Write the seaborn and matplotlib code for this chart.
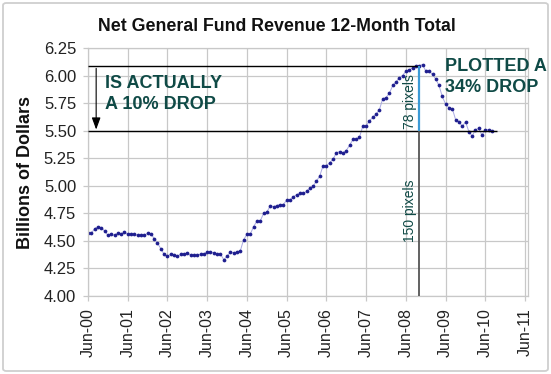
import numpy as np
import pandas as pd
import matplotlib
matplotlib.use("Agg")
import matplotlib.pyplot as plt
import matplotlib.dates as mdates
import matplotlib.transforms as mtransforms
from matplotlib.patches import FancyBboxPatch
import seaborn as sns

# ---------------- data ----------------
start_month = "2000-06-01"
revenue = [
    4.57, 4.57, 4.61, 4.63, 4.62, 4.59, 4.55, 4.56, 4.55, 4.57, 4.56, 4.58,
    4.56, 4.56, 4.56, 4.55, 4.55, 4.55, 4.57, 4.56, 4.52, 4.48, 4.43, 4.38,
    4.36, 4.38, 4.37, 4.36, 4.38, 4.38, 4.39, 4.37, 4.37, 4.37, 4.38, 4.38,
    4.40, 4.40, 4.39, 4.38, 4.38, 4.33, 4.36, 4.40, 4.39, 4.40, 4.41, 4.51,
    4.56, 4.56, 4.63, 4.68, 4.68, 4.75, 4.76, 4.82, 4.81, 4.82, 4.83, 4.83,
    4.87, 4.87, 4.90, 4.92, 4.93, 4.93, 4.95, 4.98, 5.00, 5.04, 5.09, 5.18,
    5.18, 5.21, 5.24, 5.30, 5.31, 5.30, 5.32, 5.37, 5.42, 5.42, 5.44, 5.54,
    5.54, 5.59, 5.62, 5.65, 5.69, 5.79, 5.80, 5.84, 5.91, 5.94, 5.98, 6.00,
    6.04, 6.05, 6.07, 6.09, 6.09, 6.10, 6.04, 6.04, 6.01, 5.97, 5.91, 5.81,
    5.74, 5.71, 5.70, 5.60, 5.58, 5.54, 5.58, 5.49, 5.45, 5.51, 5.52, 5.46,
    5.51, 5.51, 5.50,
]
tick_years = list(range(2000, 2012))
tick_labels = [f"Jun-{y % 100:02d}" for y in tick_years]
y_ticks = [4.00, 4.25, 4.50, 4.75, 5.00, 5.25, 5.50, 5.75, 6.00, 6.25]
y_tick_labels = [f"{v:.2f}" for v in y_ticks]

title = "Net General Fund Revenue 12-Month Total"
y_label = "Billions of Dollars"
left_note = "IS ACTUALLY\nA 10% DROP"
right_note = "PLOTTED A\n34% DROP"
short_label = "78 pixels"
long_label = "150 pixels"

# annotation levels / dates
peak_level = 6.085
actual_level = 5.50
axis_floor = 4.00
mark_date = "2008-09-28"
level_line_end = "2010-09-20"
arrow_date = "2000-08-15"
left_note_pos = ("2000-11-01", 6.005)
right_note_pos = ("2009-05-28", 6.155)

# ---------------- style ----------------
sns.set_theme(style="whitegrid")
plt.rcParams["font.family"] = ["Liberation Sans", "DejaVu Sans"]

W, H = 551, 374
fig = plt.figure(figsize=(W / 100, H / 100), dpi=100)
fig.patch.set_facecolor("white")
ax = fig.add_axes([88 / W, 1 - 296 / H, 440 / W, 248 / H])

dates = pd.date_range(start_month, periods=len(revenue), freq="MS")
df = pd.DataFrame({"date": dates, "revenue": revenue})

sns.lineplot(
    data=df, x="date", y="revenue", ax=ax,
    color="#a9a9e2", linewidth=0.7,
    marker="o", markersize=2.7,
    markerfacecolor="#1f1f8f", markeredgecolor="#1f1f8f", markeredgewidth=0,
)

# axes
grid_c = "#c8c8c8"
ax.set_ylim(4.0, 6.25)
ax.set_yticks(y_ticks)
ax.set_yticklabels(y_tick_labels)
tick_dates = [pd.Timestamp(f"{y}-06-01") for y in tick_years]
ax.set_xlim(mdates.date2num(pd.Timestamp("2000-06-01")),
            mdates.date2num(pd.Timestamp("2011-06-28")))
ax.set_xticks([mdates.date2num(d) for d in tick_dates])
ax.set_xticklabels(tick_labels, rotation=90)
ax.set_xlabel("")
ax.set_ylabel("")
ax.grid(True, color=grid_c, linewidth=0.9)
ax.tick_params(axis="both", bottom=True, left=True, length=3.5, width=0.9,
               color=grid_c, labelcolor="#222222", pad=5)
ax.tick_params(axis="y", labelsize=12)
ax.tick_params(axis="x", labelsize=11.5)
for s in ax.spines.values():
    s.set_visible(True)
    s.set_color(grid_c)
    s.set_linewidth(0.9)

# annotations
x0 = mdates.date2num(dates[0])
mx = mdates.date2num(pd.Timestamp(mark_date))
lx = mdates.date2num(pd.Timestamp(level_line_end))
ax_ = mdates.date2num(pd.Timestamp(arrow_date))

ax.hlines(peak_level, x0, mx, color="black", linewidth=1.0, zorder=4)
ax.hlines(actual_level, x0, lx, color="black", linewidth=1.0, zorder=4)
ax.vlines(mx, actual_level, peak_level, color="#3b9ad6", linewidth=1.6, zorder=4)
ax.vlines(mx, axis_floor, actual_level, color="#555555", linewidth=1.3, zorder=4)
ax.annotate("", xy=(ax_, actual_level + 0.01), xytext=(ax_, peak_level - 0.02),
            arrowprops=dict(arrowstyle="-|>,head_length=0.6,head_width=0.22",
                            color="black", lw=0.8, shrinkA=0, shrinkB=0))

note_c = "#0f4a46"
ax.text(mdates.date2num(pd.Timestamp(left_note_pos[0])), left_note_pos[1], left_note,
        fontsize=13, fontweight="bold", color=note_c, ha="left", va="top",
        linespacing=1.27, zorder=5)
ax.text(mdates.date2num(pd.Timestamp(right_note_pos[0])), right_note_pos[1], right_note,
        fontsize=13, fontweight="bold", color=note_c, ha="left", va="top",
        linespacing=1.25, zorder=5, clip_on=False)

off = mtransforms.offset_copy(ax.transData, fig=fig, x=-2, y=0, units="dots")
ax.text(mx, 5.515, short_label, rotation=90, ha="right", va="bottom",
        fontsize=10, color=note_c, transform=off, zorder=5)
ax.text(mx, 4.49, long_label, rotation=90, ha="right", va="bottom",
        fontsize=10, color=note_c, transform=off, zorder=5)

# title and y label
fig.text(277 / W, 1 - 31 / H, title, ha="center", va="baseline",
         fontsize=12.8, fontweight="bold", color="#111111")
fig.text(26 / W, 1 - 172 / H, y_label, rotation=90, ha="center", va="center",
         fontsize=13, fontweight="bold", color="#111111")

# outer frame
frame = FancyBboxPatch((3 / W, 3 / H), 545 / W, 368 / H,
                       boxstyle="round,pad=0,rounding_size=0.006",
                       transform=fig.transFigure, fill=False,
                       edgecolor="#cfcfcf", linewidth=1.3)
fig.patches.append(frame)

fig.savefig("out.png", dpi=100)
